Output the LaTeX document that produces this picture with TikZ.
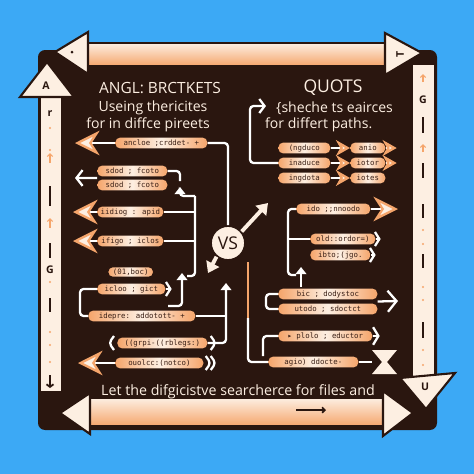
\documentclass[tikz,border=0pt]{standalone}
\usepackage{fontspec}
\setmainfont{Open Sans}
\newfontfamily\pillfont{DejaVu Sans Mono}
\usepackage{tikz}
\usetikzlibrary{arrows.meta,calc,positioning}
\definecolor{sky}{HTML}{3CA9F5}
\definecolor{board}{HTML}{2A160F}
\definecolor{cream}{HTML}{FDEFE2}
\definecolor{peach}{HTML}{F5A56B}
\definecolor{ink}{HTML}{3B2016}
\tikzset{
  pill/.style={anchor=west, rounded corners=2.8pt, left color=peach, right color=peach, middle color=cream, text=ink, font=\pillfont\fontsize{4.2}{5}\selectfont, inner xsep=1pt, inner ysep=0pt, minimum height=6.2pt},
  pw/.style={minimum width=#1*0.02cm},
  wire/.style={draw=white, line width=1.3pt, rounded corners=2pt},
  chevtip/.style={-{Stealth[length=14pt,width=14pt,inset=4.5pt,color=peach,fill=cream]}},
  smallchev/.style={-{Stealth[length=8pt,width=9pt,inset=2.5pt,color=peach,fill=cream]}},
  barb/.style={-{Straight Barb[length=3.5pt,width=9pt]}},
  uptip/.style={-{Triangle[length=4pt,width=6pt]}},
  bar/.style={draw=board, line width=1.2pt, fill=cream},
  hbar/.style={draw=board, line width=1.2pt, top color=cream, middle color=cream, bottom color=peach},
  barlbl/.style={text=board, font=\fontsize{6}{7}\selectfont\bfseries, inner sep=0pt},
  title/.style={text=cream, font=\fontsize{10}{12}\selectfont},
  sub/.style={text=cream, font=\fontsize{8}{10}\selectfont},
  vsnode/.style={circle, draw=board, line width=1pt, fill=cream, minimum size=0.68cm, inner sep=0pt, text=board, font=\fontsize{10}{12}\selectfont},
  fatarrow/.style={draw=cream, line width=2.2pt, -{Triangle[length=6pt,width=8pt]}}
}
\begin{document}
\begin{tikzpicture}[x=0.02cm,y=-0.02cm]
\useasboundingbox (0,0) rectangle (474,474);
\fill[sky] (0,0) rectangle (474,474);
\fill[board, rounded corners=4pt] (38,50) rectangle (437,430);

\draw[bar] (40,92) rectangle (62,392); \draw[bar] (412,64) rectangle (435,382);
\draw[hbar] (86,43) rectangle (388,66); \draw[hbar] (86,398) rectangle (386,426);
\draw[bar] (47,62) -- (74,97) -- (20,97) -- cycle; \node[barlbl] (ba) at (46,86) {A};
\draw[bar] (55,52) -- (88,32) -- (88,74) -- cycle; \fill[board] (72,52) circle (1.5);
\draw[bar] (422,53) -- (385,33) -- (385,75) -- cycle; \node[barlbl, rotate=90] (bt) at (400,54) {T};
\draw[bar] (400,378) -- (455,373) -- (426,409) -- cycle; \node[barlbl] (bu) at (425,387) {U};
\draw[bar] (60,413) -- (90,393) -- (90,434) -- cycle; \draw[bar] (413,413) -- (383,391) -- (383,436) -- cycle;
\draw[board, line width=1pt, -{Straight Barb[length=1.5pt,width=3pt]}] (296,410) -- (326,410);

\node[barlbl] (br) at (50,114) {r}; \node[barlbl] (bg1) at (50,270) {G}; \node[barlbl] (bg2) at (423,100) {G};
\fill[peach] (50,128) circle (1.2); \fill[peach] (50,150) circle (1.2); \fill[peach] (50,282) circle (1.2);
\fill[peach] (50,332) circle (1.2); \fill[peach] (50,345) circle (1.2); \fill[peach] (50,362) circle (1.2);
\draw[peach, line width=0.7pt, -{Straight Barb[length=1.5pt,width=3pt]}] (50,163) -- (50,153);
\draw[peach, line width=0.7pt, -{Straight Barb[length=1.5pt,width=3pt]}] (50,228) -- (50,218);
\draw[board, line width=1pt] (50,186) -- (50,206); \draw[board, line width=1pt] (50,243) -- (50,258); \draw[board, line width=1pt] (50,298) -- (50,312);
\draw[board, line width=1pt, -{Straight Barb[length=1.5pt,width=4pt]}] (50,375) -- (50,388);
\draw[peach, line width=0.7pt, -{Straight Barb[length=1.5pt,width=3pt]}] (423,82) -- (423,74);
\draw[peach, line width=0.7pt, -{Straight Barb[length=1.5pt,width=3pt]}] (423,152) -- (423,144);
\draw[board, line width=1pt] (423,117) -- (423,133); \draw[board, line width=1pt] (423,163) -- (423,178); \draw[board, line width=1pt] (423,204) -- (423,218);
\draw[board, line width=1pt] (423,254) -- (423,268); \draw[board, line width=1pt] (423,322) -- (423,338);
\fill[peach] (423,230) circle (1.2); \fill[peach] (423,244) circle (1.2); \fill[peach] (423,287) circle (1.2);
\fill[peach] (423,300) circle (1.2); \fill[peach] (423,350) circle (1.2); \fill[peach] (423,365) circle (1.2);

\node[title, font=\fontsize{8.8}{11}\selectfont] (tl) at (160,88) {ANGL: BRCTKETS}; \node[title] (tr) at (333,88) {QUOTS};
\node[sub] (tl1) at (153,108) {Useing thericites}; \node[sub] (tl2) at (148,125) {for in diffce pireets};
\node[sub, anchor=west] (tr1) at (270,108) {\{sheche ts eairces}; \node[sub, anchor=west] (tr2) at (259,125) {for differt paths.};
\node[sub, font=\fontsize{8.1}{10}\selectfont] (ft) at (238,392) {Let the difgicistve searcherce for files and};

\node[vsnode] (vs) at (228,243) {VS};

\node[pill, pw=92] (la) at (115,143) {ancloe ;crddet- +};
\node[pill, pw=70] (lb1) at (97,171) {sdod ; fcoto};
\node[pill, pw=70] (lb2) at (97,185) {sdod ; fcoto};
\node[pill, pw=66] (lc) at (97,212) {iidiog : apid};
\node[pill, pw=66] (ld) at (97,241) {ifigo ; iclos};
\node[pill, pw=46, draw=board, line width=0.8pt] (le0) at (107,272) {(01,boc)};
\node[pill, pw=68] (le) at (97,289) {icloo ; gict};
\node[pill, pw=107] (lf) at (88,316) {idepre: addotott- +};
\node[pill, pw=90] (lm) at (117,343) {((grpi-((rblegs:)};
\node[pill, pw=88] (ln) at (115,363) {ouolcc:(notco)};

\node[pill, pw=52] (ra1) at (278,148) {(ngduco}; \node[pill, pw=35] (rb1) at (350,148) {anio};
\node[pill, pw=52] (ra2) at (278,163) {inaduce}; \node[pill, pw=35] (rb2) at (350,163) {iotor};
\node[pill, pw=52] (ra3) at (278,178) {ingdota}; \node[pill, pw=35] (rb3) at (350,178) {iotes};
\node[pill, pw=74] (rc) at (296,209) {ido ;;nnoodo};
\node[pill, pw=65] (rd) at (310,239) {old::ordor=)};
\node[pill, pw=60] (re) at (310,255) {ibto;(jgo.};
\node[pill, pw=99] (rf) at (278,294) {bic ; dodystoc};
\node[pill, pw=99] (rg) at (278,309) {utodo ; sdoctct};
\node[pill, pw=94] (rh) at (278,336) {▸ plolo ; eductor};
\node[pill, pw=90] (ri) at (268,362) {agio) ddocte-};

\coordinate (lt1) at (75,143); \coordinate (lt2) at (75,178); \coordinate (lt3) at (73,212); \coordinate (lt4) at (73,241); \coordinate (lt5) at (78,363);
\coordinate (lbt) at (195,196); \coordinate (lbb) at (195,276); \coordinate (lup) at (180,187);
\coordinate (lj) at (168,306); \coordinate (lja) at (182,273); \coordinate (vsu) at (226,283);
\coordinate (vsne) at (268,203); \coordinate (vssw) at (208,273);
\coordinate (rq) at (266,106); \coordinate (rk) at (288,275); \coordinate (rup0) at (301,287); \coordinate (rup1) at (301,267);
\coordinate (rmid) at (248,262); \coordinate (rbus) at (248,318); \coordinate (rhb) at (263,356); \coordinate (hg) at (372,362);

\draw[wire, chevtip] (la.west) -- (lt1); \draw[wire] (la.east) -| (vs.north);
\draw[wire, barb] ($(lb1.west)!0.5!(lb2.west)$) -- (lt2);
\draw[wire] (lb1.east) -| (180,181); \draw[wire, uptip] (lbt) -| (lup); \draw[wire] (lbt) -- (lbb) -- ++(-8,0);
\draw[wire, chevtip] (lc.west) -- (lt3); \draw[wire] (lc.east) -- (lc.east -| lbt);
\draw[wire, chevtip] (ld.west) -- (lt4); \draw[wire] (ld.east) -- (ld.east -| lbt);
\draw[wire, -{Straight Barb[length=2.5pt,width=8pt]}] (le.east) -- ++(6,0);
\draw[wire, uptip] (lj) -| (lja); \draw[wire] (le.west) -- ++(-17,0) |- (lf.west);
\draw[wire] (lf.east) -- (lf.east -| vsu); \draw[wire, uptip] (lm.east) -| (vsu);
\draw[wire] ([shift={(-3,-7)}]lm.west) -- ++(-5,7) -- ++(5,7); \draw[wire] ([shift={(3,-7)}]lm.east) -- ++(5,7) -- ++(-5,7);
\draw[wire, chevtip] (ln.west) -- (lt5);
\draw[wire] ([shift={(2,-7)}]ln.east) -- ++(5,7) -- ++(-5,7); \draw[wire] ([shift={(7,-7)}]ln.east) -- ++(5,7) -- ++(-5,7);

\draw[fatarrow] (vs.40) -- (vsne); \draw[fatarrow] (vs.230) -- (vssw);
\draw[peach, line width=1.4pt] (rmid) -- (rbus); \draw[wire] (rbus) |- (ri.west);

\draw[wire, {Straight Barb[length=3pt,width=8pt]}-] (rq) -| ($(ra2.west)+(-28,0)$) -- (ra2.west);
\draw[wire, smallchev] (ra1.east) -- (rb1.west); \draw[wire, smallchev] (ra2.east) -- (rb2.west); \draw[wire, smallchev] (ra3.east) -- (rb3.west);
\draw[wire, smallchev] (rb1.east) -- ++(11,0); \draw[wire, smallchev] (rb2.east) -- ++(11,0);
\draw[wire, chevtip] (rc.east) -- (398,209);
\draw[wire] (rc.west) -| (rk) -- ++(8,0); \draw[wire] (rd.west) -- (rd.west -| rk); \draw[wire, uptip] (rup0) -- (rup1);
\draw[wire, -{Straight Barb[length=2.5pt,width=8pt]}] (rd.east) -- ++(5,0); \draw[wire, -{Straight Barb[length=2.5pt,width=8pt]}] (re.east) -- ++(5,0);
\draw[wire] (rf.west) -- ++(-12,0) |- (rg.west);
\draw[wire, -{Straight Barb[length=5pt,width=12pt]}] ($(rf.east)!0.5!(rg.east)$) -- (398,301);
\draw[wire] (rhb) |- (rh.west); \draw[wire, -{Straight Barb[length=3pt,width=10pt]}] (rh.east) -- ++(7,0);
\draw[wire] (ri.east) -- (hg);
\fill[cream] (hg) ++(0,-12) -- ++(25,0) -- ++(-10,12) -- ++(10,12) -- ++(-25,0) -- ++(10,-12) -- cycle;
\end{tikzpicture}
\end{document}
